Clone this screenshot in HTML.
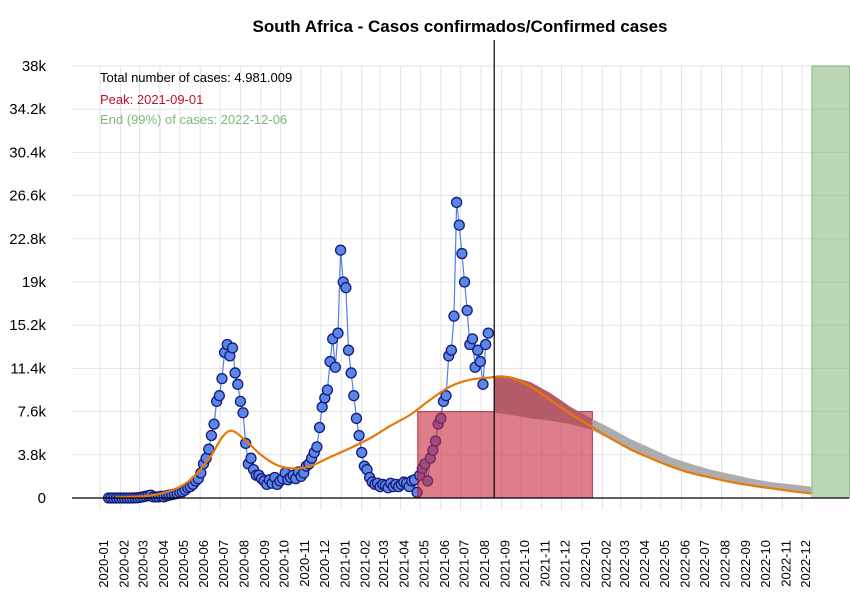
<!DOCTYPE html>
<html><head><meta charset="utf-8"><style>
body{margin:0;background:#fff;}
svg{display:block;font-family:"Liberation Sans",Arial,sans-serif;}
</style></head><body>
<svg id="chart" width="850" height="600" viewBox="0 0 850 600">
<defs><clipPath id="rclip"><rect id="rclipRect" x="0" y="0" width="0" height="600"/></clipPath></defs>
<text x="460" y="32" text-anchor="middle" font-size="17" font-weight="bold">South Africa - Casos confirmados/Confirmed cases</text>
<g id="grid"></g>
<g id="yticks"></g>
<g id="xticks"></g>
<g id="pts"></g>
<g id="rects"></g>
<g id="band"></g>
<g id="curve"></g>
<line x1="72" y1="498" x2="849" y2="498" stroke="#000" stroke-width="1.2"/>
<line id="vline" x1="494" y1="40" x2="494" y2="498" stroke="#000" stroke-width="1.2"/>
<text x="100" y="82" font-size="13" fill="#000">Total number of cases: 4.981.009</text>
<text x="100" y="104" font-size="13" fill="#c0102a">Peak: 2021-09-01</text>
<text x="100" y="124" font-size="13" fill="#7fb77e">End (99%) of cases: 2022-12-06</text>
</svg>
<script>
const yTicks=[0,3.8,7.6,11.4,15.2,19,22.8,26.6,30.4,34.2,38];
const yTickLabels=["0","3.8k","7.6k","11.4k","15.2k","19k","22.8k","26.6k","30.4k","34.2k","38k"];
const monthLabels=["2020-01","2020-02","2020-03","2020-04","2020-05","2020-06","2020-07","2020-08","2020-09","2020-10","2020-11","2020-12","2021-01","2021-02","2021-03","2021-04","2021-05","2021-06","2021-07","2021-08","2021-09","2021-10","2021-11","2021-12","2022-01","2022-02","2022-03","2022-04","2022-05","2022-06","2022-07","2022-08","2022-09","2022-10","2022-11","2022-12"];
const casesStart="2020-01-14";
const casesStepDays=4;
const casesK=[0,0,0,0,0,0,0,0,0,0,0.01,
0.02,0.05,0.1,0.15,0.2,0.25,0.1,0.1,
0.1,0.15,0.1,0.2,0.25,0.3,0.35,
0.4,0.5,0.55,0.7,0.9,1.0,1.2,1.5,
1.7,2.2,3.0,3.5,4.3,5.5,6.5,
8.5,9.0,10.5,12.8,13.5,12.5,13.2,11.0,
10.0,8.5,7.5,4.8,3.0,3.5,2.5,2.0,
2.0,1.7,1.5,1.2,1.6,1.3,1.8,
1.2,1.5,1.7,2.2,1.6,1.8,2.0,1.7,
2.3,1.9,2.2,2.8,3.0,3.5,4.0,
4.5,6.2,8.0,8.8,9.5,12.0,14.0,11.5,
14.5,21.8,19.0,18.5,13.0,11.0,9.0,7.0,
5.5,4.0,2.8,2.5,1.8,1.4,1.2,
1.3,1.0,1.2,1.1,0.9,1.3,1.0,1.2,
1.0,1.2,1.4,1.3,1.0,1.5,1.6,
0.5,2.0,2.6,3.0,1.5,3.5,4.2,5.0,
6.5,7.0,8.5,9.0,12.5,13.0,16.0,
26.0,24.0,21.5,19.0,16.5,13.5,14.0,11.5,
13.0,12.0,10.0,13.5,14.5];
const fitDates=["2020-01-25","2020-02-15","2020-03-15","2020-04-15","2020-05-15","2020-06-15","2020-07-05","2020-07-20","2020-08-10","2020-09-01","2020-09-25","2020-10-20","2020-11-15","2020-12-15","2021-01-15","2021-02-15","2021-03-15","2021-04-15","2021-05-15","2021-06-15","2021-07-15","2021-08-15","2021-09-01","2021-09-20","2021-10-15","2021-11-15","2021-12-15","2022-01-15","2022-02-15","2022-03-15","2022-04-15","2022-05-15","2022-06-15","2022-07-15","2022-08-15","2022-09-15","2022-10-15","2022-11-15","2022-12-15"];
const fitK=[0.05,0.1,0.2,0.6,1.5,3.5,5.4,5.9,5.0,3.8,2.9,2.6,2.8,3.6,4.4,5.3,6.3,7.3,8.6,9.8,10.4,10.6,10.7,10.5,9.8,8.6,7.4,6.3,5.2,4.3,3.5,2.8,2.2,1.8,1.4,1.1,0.85,0.6,0.4];
const bandDates=["2021-08-21","2021-09-15","2021-10-15","2021-11-15","2021-12-15","2022-01-15","2022-02-15","2022-03-15","2022-04-15","2022-05-15","2022-06-15","2022-07-15","2022-08-15","2022-09-15","2022-10-15","2022-11-15","2022-12-15"];
const bandUpper=[10.7,10.7,10.2,9.2,8.0,7.0,6.1,5.2,4.4,3.6,3.0,2.5,2.1,1.7,1.4,1.2,1.0];
const bandLower=[7.5,7.3,7.0,6.8,6.5,6.0,5.1,4.3,3.5,2.8,2.2,1.8,1.4,1.1,0.85,0.6,0.4];
const peakRect={start:"2021-04-27",end:"2022-01-17",valueK:7.6};
const endRect={start:"2022-12-16",end:"2023-02-11",valueK:38};
const lastDataDate="2021-08-21";

const NS="http://www.w3.org/2000/svg";
const T0=Date.UTC(2020,0,1);
function days(s){const p=s.split("-").map(Number);return (Date.UTC(p[0],p[1]-1,p[2])-T0)/86400000;}
function X(d){return 100+d*0.6592;}
function Y(v){return 498-v*(432/38);}
function el(tag,attrs,parent){const e=document.createElementNS(NS,tag);for(const k in attrs)e.setAttribute(k,attrs[k]);parent.appendChild(e);return e;}
const grid=document.getElementById("grid"),yt=document.getElementById("yticks"),xt=document.getElementById("xticks");
yTicks.forEach((v,i)=>{
  const l=el("line",{x1:72,x2:849,y1:Y(v),y2:Y(v),stroke:"#e3e3e3","stroke-width":1},grid);
  
  
  const t=el("text",{x:46,y:Y(v)+5,"text-anchor":"end","font-size":15},yt);
  t.textContent=yTickLabels[i];
  
  
});
monthLabels.forEach(m=>{
  const x=X(days(m+"-01"));
  const l=el("line",{x1:x,x2:x,y1:66,y2:510,stroke:"#e3e3e3","stroke-width":1},grid);
  
  
  const t=el("text",{x:0,y:0,"text-anchor":"end","font-size":13,transform:`translate(${x+8},540) rotate(-90)`},xt);
  t.textContent=m;
  
  
});
// points
{
  const g=document.getElementById("pts");const s0=days(casesStart);
  let d="";
  casesK.forEach((v,i)=>{d+=(i?"L":"M")+X(s0+i*casesStepDays)+","+Y(v);});
  const ln=el("path",{d:d,fill:"none",stroke:"#4f7fe8","stroke-width":1.2},g);
  
  
  casesK.forEach((v,i)=>{
    const c=el("circle",{cx:X(s0+i*casesStepDays),cy:Y(v),r:5,fill:"#5b87e6",stroke:"#15197a","stroke-width":1.3},g);
    
    
  });
}
// rects
const rx=X(days(peakRect.start)),rw=X(days(peakRect.end))-rx;
{
  const g=document.getElementById("rects");
  const r1=el("rect",{x:rx,y:Y(peakRect.valueK),width:rw,height:Y(0)-Y(peakRect.valueK),fill:"rgba(200,40,60,0.6)",stroke:"rgba(170,20,40,0.8)","stroke-width":1},g);
  
  
  const r2=el("rect",{x:X(days(endRect.start)),y:Y(endRect.valueK),width:X(days(endRect.end))-X(days(endRect.start)),height:Y(0)-Y(endRect.valueK),fill:"rgba(120,175,110,0.5)",stroke:"rgba(100,160,100,0.7)","stroke-width":1},g);
  
  
}
// band (drawn over rect, then tinted red inside rect range)
{
  let bandD="";
  bandDates.forEach((s,i)=>{bandD+=(i?"L":"M")+X(days(s))+","+Y(bandUpper[i]);});
  for(let i=bandDates.length-1;i>=0;i--)bandD+="L"+X(days(bandDates[i]))+","+Y(bandLower[i]);
  bandD+="Z";
  const g=document.getElementById("band");
  const p=el("path",{d:bandD,fill:"#adadad"},g);
  
  
  const cr=document.getElementById("rclipRect");cr.setAttribute("x",rx);cr.setAttribute("width",rw);
  const ov=el("path",{d:bandD,fill:"rgba(185,40,60,0.6)","clip-path":"url(#rclip)"},g);
  
  
}
// curve (Catmull-Rom)
{
  const pts=fitDates.map((s,i)=>[X(days(s)),Y(fitK[i])]);
  let d="M"+pts[0][0]+","+pts[0][1];
  for(let i=0;i<pts.length-1;i++){
    const p0=pts[Math.max(0,i-1)],p1=pts[i],p2=pts[i+1],p3=pts[Math.min(pts.length-1,i+2)];
    const c1=[p1[0]+(p2[0]-p0[0])/6,p1[1]+(p2[1]-p0[1])/6],c2=[p2[0]-(p3[0]-p1[0])/6,p2[1]-(p3[1]-p1[1])/6];
    d+=`C${c1[0]},${c1[1]} ${c2[0]},${c2[1]} ${p2[0]},${p2[1]}`;
  }
  const c=el("path",{d:d,fill:"none",stroke:"#e8780a","stroke-width":2.2},document.getElementById("curve"));
  
  
}
const vx=X(days(lastDataDate));
document.getElementById("vline").setAttribute("x1",vx);
document.getElementById("vline").setAttribute("x2",vx);
</script>
</body></html>
